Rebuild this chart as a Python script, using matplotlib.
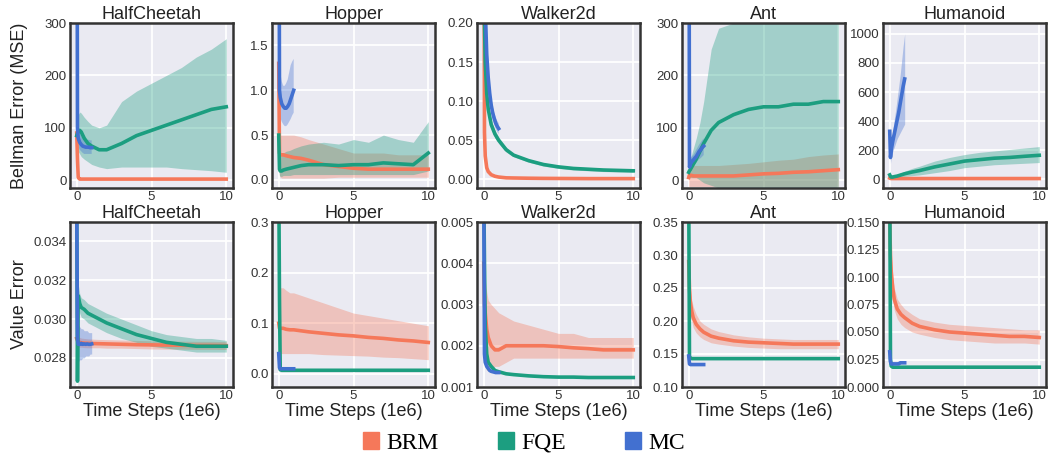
import matplotlib
matplotlib.use("Agg")
import matplotlib.pyplot as plt
from matplotlib.patches import Patch

plt.rcParams["font.family"] = ["Liberation Sans", "DejaVu Sans"]

# colours for the three methods
C_BRM = "#f5785a"
C_FQE = "#1c9e80"
C_MC = "#4270d0"

envs = ["HalfCheetah", "Hopper", "Walker2d", "Ant", "Humanoid"]

# time steps (1e6) for the full-length runs and for the short MC runs
x_full = [0, 0.05, 0.1, 0.2, 0.3, 0.5, 0.75, 1, 1.5, 2, 3, 4, 5, 6, 7, 8, 9, 10]
x_mc = [0, 0.05, 0.1, 0.2, 0.3, 0.4, 0.5, 0.6, 0.7, 0.8, 0.9, 1.0]

# ---------------- Bellman error (top row) ----------------
hc_be_brm = [90, 40, 5, 2, 2, 2, 2, 2, 2, 2, 2, 2, 2, 2, 2, 2, 2, 2]
hc_be_fqe = [85, 90, 92, 95, 92, 80, 70, 65, 58, 58, 70, 85, 95, 105, 115, 125, 135, 140]
hc_be_fqe_lo = [70, 60, 55, 50, 45, 40, 35, 30, 25, 22, 25, 25, 25, 25, 22, 20, 18, 15]
hc_be_fqe_hi = [100, 115, 125, 130, 128, 120, 112, 105, 100, 105, 150, 170, 185, 200, 215, 235, 250, 270]
hc_be_mc = [900, 100, 80, 72, 68, 65, 64, 63, 63, 63, 62, 62]
hc_be_mc_lo = [300, 80, 65, 58, 55, 52, 50, 50, 50, 50, 50, 50]
hc_be_mc_hi = [1500, 165, 100, 90, 85, 80, 78, 78, 77, 77, 76, 76]

hop_be_brm = [1.3, 0.3, 0.28, 0.28, 0.28, 0.27, 0.26, 0.25, 0.24, 0.22, 0.17, 0.15, 0.13, 0.12, 0.12, 0.12, 0.12, 0.12]
hop_be_brm_lo = [0.2, 0.05, 0.03, 0.02, 0.02, 0.02, 0.02, 0.02, 0.02, 0.02, 0.02, 0.03, 0.03, 0.03, 0.03, 0.03, 0.03, 0.03]
hop_be_brm_hi = [1.5, 0.55, 0.5, 0.5, 0.5, 0.5, 0.5, 0.5, 0.48, 0.45, 0.4, 0.35, 0.3, 0.3, 0.3, 0.28, 0.28, 0.28]
hop_be_fqe = [0.5, 0.12, 0.1, 0.1, 0.11, 0.12, 0.13, 0.14, 0.16, 0.17, 0.17, 0.16, 0.17, 0.17, 0.19, 0.18, 0.17, 0.3]
hop_be_fqe_lo = [0.1, 0.05, 0.04, 0.04, 0.05, 0.05, 0.05, 0.06, 0.06, 0.06, 0.06, 0.06, 0.06, 0.06, 0.06, 0.06, 0.06, 0.1]
hop_be_fqe_hi = [0.9, 0.3, 0.28, 0.28, 0.3, 0.32, 0.33, 0.35, 0.38, 0.4, 0.42, 0.4, 0.45, 0.42, 0.5, 0.45, 0.42, 0.65]
hop_be_mc = [5.0, 1.0, 0.92, 0.85, 0.82, 0.8, 0.8, 0.82, 0.85, 0.9, 0.95, 1.0]
hop_be_mc_lo = [3.0, 0.75, 0.7, 0.65, 0.62, 0.6, 0.6, 0.62, 0.65, 0.68, 0.72, 0.75]
hop_be_mc_hi = [7.0, 1.3, 1.2, 1.1, 1.05, 1.05, 1.08, 1.12, 1.2, 1.28, 1.32, 1.35]

wk_be_brm = [0.5, 0.06, 0.03, 0.015, 0.01, 0.006, 0.004, 0.003, 0.002, 0.0018, 0.0015, 0.0013, 0.0012, 0.0011, 0.001, 0.001, 0.001, 0.001]
wk_be_fqe = [0.5, 0.2, 0.15, 0.11, 0.09, 0.07, 0.058, 0.05, 0.038, 0.031, 0.024, 0.019, 0.016, 0.014, 0.013, 0.012, 0.0115, 0.011]
wk_be_fqe_lo = [0.45, 0.18, 0.135, 0.1, 0.082, 0.064, 0.053, 0.046, 0.035, 0.029, 0.022, 0.017, 0.014, 0.012, 0.011, 0.01, 0.0095, 0.009]
wk_be_fqe_hi = [0.55, 0.22, 0.165, 0.12, 0.098, 0.076, 0.063, 0.054, 0.041, 0.033, 0.026, 0.021, 0.018, 0.016, 0.015, 0.014, 0.0135, 0.013]
wk_be_mc = [0.6, 0.3, 0.22, 0.16, 0.13, 0.11, 0.095, 0.085, 0.078, 0.072, 0.068, 0.065]
wk_be_mc_lo = [0.5, 0.27, 0.2, 0.145, 0.118, 0.1, 0.086, 0.077, 0.07, 0.065, 0.061, 0.058]
wk_be_mc_hi = [0.7, 0.33, 0.24, 0.175, 0.142, 0.12, 0.104, 0.093, 0.086, 0.079, 0.075, 0.072]

ant_be_brm = [5, 10, 9, 9, 8, 8, 8, 8, 8, 8, 8, 10, 12, 13, 15, 16, 18, 20]
ant_be_brm_lo = [-12, -12, -12, -12, -12, -12, -12, -12, -12, -12, -12, -12, -12, -12, -12, -12, -12, -12]
ant_be_brm_hi = [20, 30, 30, 28, 28, 28, 28, 28, 28, 28, 30, 32, 35, 38, 40, 45, 48, 50]
ant_be_fqe = [15, 18, 20, 25, 30, 40, 55, 70, 95, 110, 125, 135, 140, 140, 145, 145, 150, 150]
ant_be_fqe_lo = [5, 5, 5, 5, 5, 5, 0, -5, -10, -15, -15, -15, -15, -15, -15, -15, -15, -15]
ant_be_fqe_hi = [30, 35, 40, 50, 60, 80, 110, 150, 250, 290, 300, 310, 320, 320, 320, 320, 320, 320]
ant_be_mc = [900, 25, 30, 35, 38, 42, 45, 50, 55, 58, 62, 65]
ant_be_mc_lo = [300, 15, 20, 25, 28, 30, 33, 37, 40, 42, 45, 48]
ant_be_mc_hi = [1500, 35, 40, 45, 48, 53, 58, 63, 68, 72, 76, 80]

hum_be_brm = [8, 6, 5, 5, 5, 5, 5, 5, 5, 5, 5, 5, 5, 5, 5, 5, 5, 5]
hum_be_fqe = [30, 20, 15, 15, 18, 22, 30, 38, 50, 60, 85, 105, 125, 135, 145, 150, 158, 165]
hum_be_fqe_lo = [15, 10, 5, 5, 8, 10, 15, 20, 25, 30, 45, 60, 80, 90, 100, 105, 110, 115]
hum_be_fqe_hi = [45, 30, 25, 25, 28, 35, 45, 55, 75, 90, 125, 150, 170, 185, 195, 205, 215, 225]
hum_be_mc = [330, 150, 200, 260, 310, 360, 410, 460, 520, 580, 640, 690]
hum_be_mc_lo = [300, 110, 150, 190, 220, 250, 280, 300, 320, 340, 360, 380]
hum_be_mc_hi = [360, 200, 260, 330, 410, 480, 560, 640, 720, 820, 920, 1000]

# ---------------- Value error (bottom row) ----------------
hc_ve_brm = [0.029, 0.0289, 0.0288, 0.0288, 0.02878, 0.02876, 0.02875, 0.02874, 0.02873, 0.02872, 0.0287, 0.02868, 0.02867, 0.02866, 0.02865, 0.02864, 0.02864, 0.02863]
hc_ve_brm_lo = [0.0287, 0.02865, 0.02855, 0.02855, 0.02855, 0.02853, 0.02852, 0.02852, 0.02852, 0.0285, 0.0285, 0.02848, 0.02846, 0.02845, 0.02845, 0.02844, 0.02844, 0.02843]
hc_ve_brm_hi = [0.0292, 0.0292, 0.0291, 0.02905, 0.02902, 0.029, 0.02898, 0.02897, 0.02895, 0.02894, 0.02892, 0.0289, 0.02888, 0.02887, 0.02886, 0.02885, 0.02885, 0.02884]
hc_ve_fqe = [0.036, 0.0268, 0.0312, 0.0308, 0.0306, 0.0305, 0.0303, 0.0302, 0.03, 0.0298, 0.0295, 0.0292, 0.029, 0.0288, 0.0287, 0.0286, 0.0286, 0.0286]
hc_ve_fqe_lo = [0.036, 0.0268, 0.0308, 0.0303, 0.0301, 0.03, 0.0298, 0.0297, 0.0295, 0.0293, 0.029, 0.0288, 0.0286, 0.0285, 0.0284, 0.0283, 0.0283, 0.0283]
hc_ve_fqe_hi = [0.036, 0.0268, 0.0318, 0.0313, 0.0311, 0.031, 0.0308, 0.0307, 0.0305, 0.0303, 0.03, 0.0297, 0.0294, 0.0292, 0.0291, 0.029, 0.029, 0.0289]
hc_ve_mc = [0.036, 0.029, 0.0287, 0.0287, 0.02875, 0.0287, 0.02872, 0.0287, 0.02872, 0.0287, 0.0287, 0.02872]
hc_ve_mc_lo = [0.036, 0.028, 0.0278, 0.0279, 0.0279, 0.028, 0.028, 0.0281, 0.0281, 0.0281, 0.0282, 0.0282]
hc_ve_mc_hi = [0.036, 0.03, 0.0297, 0.0296, 0.0295, 0.0295, 0.0294, 0.0294, 0.0294, 0.0293, 0.0293, 0.0293]

hop_ve_brm = [0.1, 0.09, 0.09, 0.09, 0.09, 0.088, 0.087, 0.087, 0.085, 0.083, 0.08, 0.077, 0.075, 0.072, 0.07, 0.067, 0.065, 0.062]
hop_ve_brm_lo = [0.05, 0.04, 0.04, 0.04, 0.04, 0.04, 0.04, 0.04, 0.04, 0.04, 0.038, 0.037, 0.036, 0.035, 0.033, 0.032, 0.03, 0.028]
hop_ve_brm_hi = [0.16, 0.17, 0.17, 0.17, 0.17, 0.165, 0.16, 0.16, 0.155, 0.15, 0.14, 0.13, 0.12, 0.115, 0.11, 0.105, 0.1, 0.095]
hop_ve_fqe = [0.4, 0.15, 0.008, 0.007, 0.007, 0.007, 0.007, 0.007, 0.007, 0.007, 0.007, 0.007, 0.007, 0.007, 0.007, 0.007, 0.007, 0.007]
hop_ve_mc = [0.04, 0.012, 0.01, 0.01, 0.01, 0.01, 0.01, 0.01, 0.01, 0.01, 0.01, 0.01]

wk_ve_brm = [0.004, 0.003, 0.0028, 0.0024, 0.0022, 0.002, 0.0019, 0.0019, 0.002, 0.002, 0.002, 0.002, 0.00198, 0.00195, 0.00193, 0.0019, 0.0019, 0.0019]
wk_ve_brm_lo = [0.0018, 0.0016, 0.0015, 0.0014, 0.0014, 0.0014, 0.0015, 0.0015, 0.0016, 0.0017, 0.0017, 0.0017, 0.0017, 0.0017, 0.0017, 0.0017, 0.0017, 0.0017]
wk_ve_brm_hi = [0.0045, 0.0038, 0.0036, 0.0033, 0.0031, 0.003, 0.0029, 0.0028, 0.0027, 0.0026, 0.0025, 0.0024, 0.0023, 0.0023, 0.0022, 0.0022, 0.0022, 0.0022]
wk_ve_fqe = [0.006, 0.004, 0.0025, 0.0018, 0.0016, 0.0015, 0.0014, 0.00137, 0.00132, 0.0013, 0.00127, 0.00125, 0.00124, 0.00124, 0.00123, 0.00123, 0.00123, 0.00123]
wk_ve_mc = [0.006, 0.0018, 0.0016, 0.0015, 0.00145, 0.0014, 0.00138, 0.00137, 0.00136, 0.00135, 0.00135, 0.00135]

ant_ve_brm = [0.29, 0.25, 0.23, 0.215, 0.205, 0.195, 0.188, 0.183, 0.177, 0.174, 0.17, 0.168, 0.167, 0.166, 0.165, 0.165, 0.165, 0.165]
ant_ve_brm_lo = [0.27, 0.235, 0.215, 0.2, 0.19, 0.182, 0.176, 0.172, 0.167, 0.165, 0.162, 0.16, 0.159, 0.158, 0.158, 0.158, 0.158, 0.158]
ant_ve_brm_hi = [0.31, 0.27, 0.25, 0.232, 0.222, 0.21, 0.2, 0.195, 0.188, 0.184, 0.179, 0.176, 0.174, 0.173, 0.172, 0.172, 0.172, 0.172]
ant_ve_fqe = [0.4, 0.145, 0.144, 0.143, 0.143, 0.143, 0.143, 0.143, 0.143, 0.143, 0.143, 0.143, 0.143, 0.143, 0.143, 0.143, 0.143, 0.143]
ant_ve_mc = [0.147, 0.135, 0.134, 0.134, 0.134, 0.134, 0.134, 0.134, 0.134, 0.134, 0.134, 0.134]

hum_ve_brm = [0.15, 0.12, 0.105, 0.09, 0.08, 0.071, 0.066, 0.063, 0.058, 0.055, 0.052, 0.05, 0.049, 0.048, 0.047, 0.046, 0.046, 0.045]
hum_ve_brm_lo = [0.13, 0.105, 0.09, 0.078, 0.07, 0.062, 0.057, 0.054, 0.05, 0.048, 0.045, 0.043, 0.042, 0.041, 0.04, 0.04, 0.04, 0.039]
hum_ve_brm_hi = [0.17, 0.135, 0.12, 0.1, 0.09, 0.08, 0.075, 0.071, 0.066, 0.062, 0.059, 0.057, 0.056, 0.055, 0.054, 0.053, 0.052, 0.052]
hum_ve_fqe = [0.2, 0.025, 0.019, 0.018, 0.018, 0.018, 0.018, 0.018, 0.018, 0.018, 0.018, 0.018, 0.018, 0.018, 0.018, 0.018, 0.018, 0.018]
hum_ve_mc = [0.032, 0.023, 0.021, 0.021, 0.021, 0.021, 0.021, 0.021, 0.022, 0.022, 0.022, 0.022]

# (brm, fqe, mc) each as (mean, lo, hi); lo/hi None when no band is visible
top_row = [
    ((hc_be_brm, None, None), (hc_be_fqe, hc_be_fqe_lo, hc_be_fqe_hi), (hc_be_mc, hc_be_mc_lo, hc_be_mc_hi)),
    ((hop_be_brm, hop_be_brm_lo, hop_be_brm_hi), (hop_be_fqe, hop_be_fqe_lo, hop_be_fqe_hi), (hop_be_mc, hop_be_mc_lo, hop_be_mc_hi)),
    ((wk_be_brm, None, None), (wk_be_fqe, wk_be_fqe_lo, wk_be_fqe_hi), (wk_be_mc, wk_be_mc_lo, wk_be_mc_hi)),
    ((ant_be_brm, ant_be_brm_lo, ant_be_brm_hi), (ant_be_fqe, ant_be_fqe_lo, ant_be_fqe_hi), (ant_be_mc, ant_be_mc_lo, ant_be_mc_hi)),
    ((hum_be_brm, None, None), (hum_be_fqe, hum_be_fqe_lo, hum_be_fqe_hi), (hum_be_mc, hum_be_mc_lo, hum_be_mc_hi)),
]
bottom_row = [
    ((hc_ve_brm, hc_ve_brm_lo, hc_ve_brm_hi), (hc_ve_fqe, hc_ve_fqe_lo, hc_ve_fqe_hi), (hc_ve_mc, hc_ve_mc_lo, hc_ve_mc_hi)),
    ((hop_ve_brm, hop_ve_brm_lo, hop_ve_brm_hi), (hop_ve_fqe, None, None), (hop_ve_mc, None, None)),
    ((wk_ve_brm, wk_ve_brm_lo, wk_ve_brm_hi), (wk_ve_fqe, None, None), (wk_ve_mc, None, None)),
    ((ant_ve_brm, ant_ve_brm_lo, ant_ve_brm_hi), (ant_ve_fqe, None, None), (ant_ve_mc, None, None)),
    ((hum_ve_brm, hum_ve_brm_lo, hum_ve_brm_hi), (hum_ve_fqe, None, None), (hum_ve_mc, None, None)),
]

top_ylims = [(-15, 300), (-0.09, 1.75), (-0.011, 0.2), (-15, 300), (-60, 1075)]
top_yticks = [[0, 100, 200, 300], [0.0, 0.5, 1.0, 1.5], [0.0, 0.05, 0.1, 0.15, 0.2], [0, 100, 200, 300], [0, 200, 400, 600, 800, 1000]]
top_fmt = ["{:.0f}", "{:.1f}", "{:.2f}", "{:.0f}", "{:.0f}"]
bot_ylims = [(0.0265, 0.035), (-0.026, 0.3), (0.001, 0.005), (0.1, 0.35), (0.0, 0.15)]
bot_yticks = [[0.028, 0.030, 0.032, 0.034], [0.0, 0.1, 0.2, 0.3], [0.001, 0.002, 0.003, 0.004, 0.005],
              [0.10, 0.15, 0.20, 0.25, 0.30, 0.35], [0.0, 0.025, 0.05, 0.075, 0.1, 0.125, 0.15]]
bot_fmt = ["{:.3f}", "{:.1f}", "{:.3f}", "{:.2f}", "{:.3f}"]

W, H = 1048, 459
fig = plt.figure(figsize=(W / 100, H / 100), dpi=100)
lefts = [70, 272, 477, 682, 883]
ax_w = 163
ax_h = 165
row_tops = [23, 222]


def draw(ax, series):
    for (mean, lo, hi), xs, col in zip(series, [x_full, x_full, x_mc], [C_BRM, C_FQE, C_MC]):
        if lo is not None:
            ax.fill_between(xs, lo, hi, color=col, alpha=0.35, lw=0)
        ax.plot(xs, mean, color=col, lw=2.6)


for row, (data, ylims, yticks, fmts) in enumerate([(top_row, top_ylims, top_yticks, top_fmt),
                                                    (bottom_row, bot_ylims, bot_yticks, bot_fmt)]):
    for col in range(5):
        ax = fig.add_axes([lefts[col] / W, (H - row_tops[row] - ax_h) / H, ax_w / W, ax_h / H])
        ax.set_facecolor("#eaeaf2")
        ax.grid(True, color="white", lw=1.3)
        ax.set_axisbelow(True)
        draw(ax, data[col])
        ax.set_xlim(-0.45, 10.45)
        ax.set_ylim(*ylims[col])
        ax.set_xticks([0, 5, 10])
        ax.set_yticks(yticks[col])
        ax.set_yticklabels([fmts[col].format(v) for v in yticks[col]])
        ax.tick_params(length=0, labelsize=9.5, labelcolor="#333333")
        ax.tick_params(axis="x", pad=2)
        ax.tick_params(axis="y", pad=2.5)
        for sp in ax.spines.values():
            sp.set_color("#333333")
            sp.set_linewidth(1.8)
        ax.set_title(envs[col], fontsize=13, color="#222222", pad=2)
        if row == 1:
            ax.set_xlabel("Time Steps (1e6)", fontsize=13, color="#222222", labelpad=1)
        if col == 0:
            ax.set_ylabel(["Bellman Error (MSE)", "Value Error"][row], fontsize=13, color="#222222")
            ax.yaxis.set_label_coords((28 - lefts[0]) / ax_w, 0.5)

handles = [Patch(color=C_BRM, label="BRM"), Patch(color=C_FQE, label="FQE"), Patch(color=C_MC, label="MC")]
fig.legend(handles=handles, loc="center", bbox_to_anchor=(0.5, 1 - 443 / H), ncol=3, frameon=False,
           prop={"family": "Liberation Serif", "size": 17}, handlelength=0.7, handleheight=0.7,
           handletextpad=0.3, columnspacing=2.5)

fig.savefig("out.png", dpi=100)
